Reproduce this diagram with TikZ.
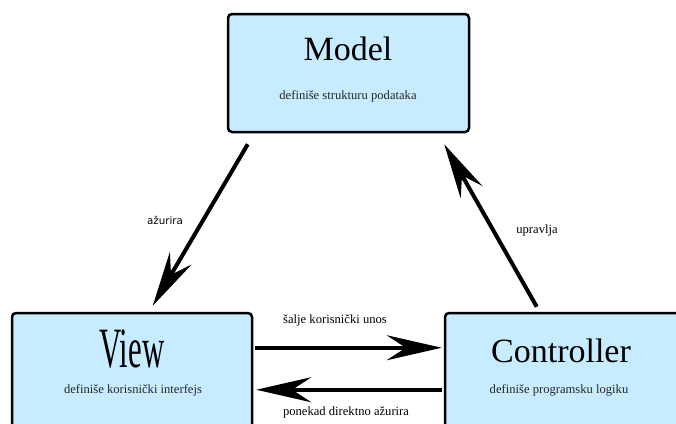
\documentclass[tikz,border=0pt]{standalone}
\usepackage{fontspec}
\setmainfont{Liberation Serif}
\newfontfamily\labsans{DejaVu Sans}
\usetikzlibrary{arrows.meta,calc}
\definecolor{boxfill}{RGB}{199,236,255}
\begin{document}
\begin{tikzpicture}[x=1pt,y=-1pt,
  box/.style={draw=black,line width=2.5pt,fill=boxfill,rounded corners=4pt,inner sep=0pt},
  title/.style={anchor=base,inner sep=0pt,font=\fontsize{34}{34}\selectfont},
  sub/.style={anchor=base,inner sep=0pt,text=black!85,font=\fontsize{12.6}{12.6}\selectfont},
  lab/.style={anchor=base,inner sep=0pt,font=\fontsize{12.6}{12.6}\selectfont},
  conn/.style={line width=4pt,-{Stealth[length=55pt,width=25pt,inset=19pt]}}]
\useasboundingbox (0,0) rectangle (676,423);
\clip (0,0) rectangle (676,423);
\node[box,minimum width=241pt,minimum height=118pt] (model) at (348.5,73) {};
\node[box,minimum width=240pt,minimum height=160pt] (view) at (132,393) {};
\node[box,minimum width=240pt,minimum height=160pt] (ctrl) at (565,393) {};
\node[title] (mt) at (348,60) {Model};
\node[title] (vt) at (132,367) {\scalebox{0.54}[1]{\fontsize{57}{57}\selectfont View}};
\node[title] (ct) at (561,362) {Controller};
\node[sub] (ms) at (348,99) {definiše strukturu podataka};
\node[sub] (vs) at (133,393) {definiše korisnički interfejs};
\node[sub] (cs) at (559,393) {definiše programsku logiku};
\node[lab,font=\labsans\fontsize{10.3}{10.3}\selectfont] (l1) at (165,224) {ažurira};
\node[lab] (l2) at (537,233) {upravlja};
\node[lab] (l3) at (335,323) {šalje korisnički unos};
\node[lab] (l4) at (346,415) {ponekad direktno ažurira};
\draw[conn] ([shift={(21,11)}]model.south west) -- ([shift={(142,-6)}]view.north west);
\draw[conn] ([shift={(93,-5)}]ctrl.north west) -- ([shift={(-26,11)}]model.south east);
\draw[conn] ([shift={(2,36)}]view.north east) -- ([shift={(-2,36)}]ctrl.north west);
\draw[conn] ([shift={(-2,78)}]ctrl.north west) -- ([shift={(3,78)}]view.north east);
\end{tikzpicture}
\end{document}
